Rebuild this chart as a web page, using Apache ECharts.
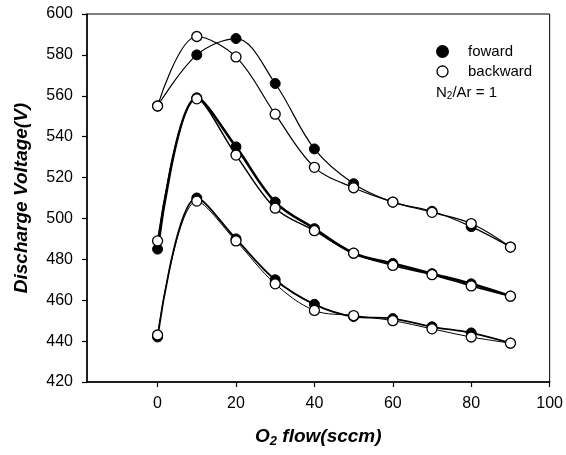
<!DOCTYPE html>
<html>
<head>
<meta charset="utf-8">
<script src="https://cdn.jsdelivr.net/npm/echarts@6/dist/echarts.min.js"></script>
<style>
html,body{margin:0;padding:0;background:#fff;}
#chart{width:566px;height:455px;}
</style>
</head>
<body>
<div id="chart"></div>
<script>
// O2 flow (sccm)
const xValues = [0, 10, 20, 30, 40, 50, 60, 70, 80, 90];
// Discharge voltage (V), three curve pairs
const forward1  = [555, 580, 588, 566, 534, 517, 508, 503.5, 496, 486];
const backward1 = [555, 589, 579, 551, 525, 515, 508, 503, 497.5, 486];
const forward2  = [485, 559, 535, 508, 495, 483, 478, 473, 468, 462];
const backward2 = [489, 558.5, 531, 505, 494, 483, 477, 472.5, 467, 462];
const forward3  = [442, 510, 490, 470, 458, 452, 451, 447, 444, 439];
const backward3 = [443, 508.5, 489, 468, 455, 452.5, 450, 446, 442, 439];
const xTicks = [0, 20, 40, 60, 80, 100];
const yTicks = [420, 440, 460, 480, 500, 520, 540, 560, 580, 600];

const FONT = '"Liberation Sans", Arial, sans-serif';
const pair = (xs, ys) => xs.map((x, i) => [x, ys[i]]);

function fwd(data, w) {
  return {
    name: 'foward', type: 'line', data: pair(xValues, data), smooth: 0.35,
    symbol: 'circle', symbolSize: 10,
    lineStyle: { color: '#000', width: w },
    itemStyle: { color: '#000', borderColor: '#000', borderWidth: 1 },
    z: 2
  };
}
function bwd(data, w) {
  return {
    name: 'backward', type: 'line', data: pair(xValues, data), smooth: 0.35,
    symbol: 'circle', symbolSize: 10,
    lineStyle: { color: '#000', width: w },
    itemStyle: { color: '#fff', borderColor: '#000', borderWidth: 1.3 },
    z: 3
  };
}

const chart = echarts.init(document.getElementById('chart'), null, { renderer: 'canvas' });
chart.setOption({
  animation: false,
  backgroundColor: '#fff',
  grid: { left: 87, right: 16, top: 14, bottom: 73, show: true, borderColor: '#000', borderWidth: 1, containLabel: false },
  legend: {
    orient: 'vertical', left: 431, top: 39, itemWidth: 11, itemHeight: 11, itemGap: 5,
    textStyle: { fontFamily: FONT, fontSize: 15, color: '#000', padding: [0, 0, 0, 15] },
    data: [
      { name: 'foward', icon: 'circle', itemStyle: { color: '#000', borderColor: '#000' } },
      { name: 'backward', icon: 'circle', itemStyle: { color: '#fff', borderColor: '#000', borderWidth: 1.3 } }
    ]
  },
  graphic: [{
    type: 'text', left: 436, top: 85,
    style: {
      text: '{a|N}{s|2}{a|/Ar = 1}',
      rich: {
        a: { fontFamily: FONT, fontSize: 15, fill: '#000' },
        s: { fontFamily: FONT, fontSize: 10, fill: '#000', padding: [8, 0, 0, 0] }
      }
    }
  }],
  xAxis: {
    type: 'value', min: -18, max: 100,
    axisLine: { show: true, onZero: false, lineStyle: { color: '#000', width: 1.5 } },
    axisTick: { show: true, inside: false, length: 5, customValues: xTicks, lineStyle: { color: '#000', width: 1.2 } },
    axisLabel: { customValues: xTicks, margin: 14, fontFamily: FONT, fontSize: 16, color: '#000' },
    splitLine: { show: false },
    name: '{a|O}{s|2}{a| flow(sccm)}', nameLocation: 'middle', nameGap: 44,
    nameTextStyle: {
      rich: {
        a: { fontFamily: FONT, fontSize: 19, fontWeight: 'bold', fontStyle: 'italic', color: '#000' },
        s: { fontFamily: FONT, fontSize: 13, fontWeight: 'bold', fontStyle: 'italic', color: '#000', padding: [9, 0, 0, 0] }
      }
    }
  },
  yAxis: {
    type: 'value', min: 420, max: 600, interval: 20,
    axisLine: { show: true, onZero: false, lineStyle: { color: '#000', width: 1.5 } },
    axisTick: { show: true, inside: false, length: 5, lineStyle: { color: '#000', width: 1.2 } },
    axisLabel: { margin: 14, fontFamily: FONT, fontSize: 16, color: '#000' },
    splitLine: { show: false },
    name: 'Discharge Voltage(V)', nameLocation: 'middle', nameGap: 56, nameRotate: 90,
    nameTextStyle: { fontFamily: FONT, fontSize: 19, fontWeight: 'bold', fontStyle: 'italic', color: '#000' }
  },
  series: [
    fwd(forward1, 1.2), bwd(backward1, 1.2),
    fwd(forward2, 2.6), bwd(backward2, 1.5),
    fwd(forward3, 1.8), bwd(backward3, 1.0)
  ]
});
</script>
</body>
</html>
